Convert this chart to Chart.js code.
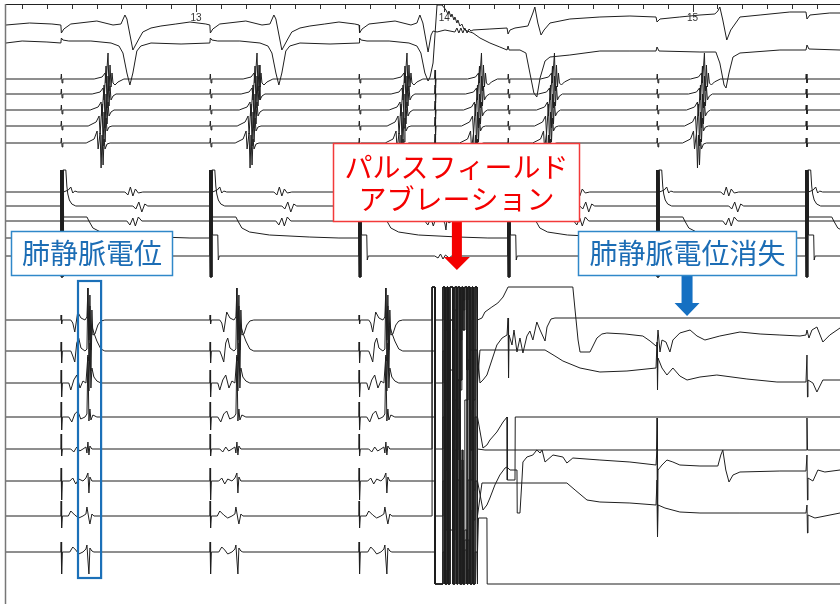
<!DOCTYPE html>
<html lang="ja">
<head>
<meta charset="utf-8">
<title>パルスフィールドアブレーション 心内心電図</title>
<script src="https://cdn.jsdelivr.net/npm/chart.js@4.4.1/dist/chart.umd.min.js"></script>
<style>
  html, body { margin: 0; padding: 0; background: #fff; }
  #wrap { position: relative; width: 840px; height: 604px; }
</style>
</head>
<body>
<div id="wrap"><canvas id="egm"></canvas></div>
<script>
// ---------------- time base (ms) ----------------
const timeRange = [12235, 15594];
const secondLabels = [13, 14, 15];
const pacingTimes = [12456, 13056, 13656, 14256, 14856, 15456];
const complexTimes = [12646, 13246, 13850, 14150, 14444, 15048];
const pfaPulseTimes = [13951, 13963, 13995, 14003, 14011, 14015, 14023, 14035, 14043, 14051, 14055,
                       14063, 14071, 14075, 14083, 14092, 14096, 14104, 14112, 14116, 14124, 14132];

// ---------------- channel rows (display units, 0 = bottom) ----------------
const ecgRows = [579, 561];
const ventRows = [525, 510, 494, 478, 461];
const csRows = [412, 398, 383, 366, 348];
const pvRows = [284, 253, 221, 187, 155, 123, 88, 52];
const stimRails = [434, 327];   // stimulus artefact limits on the CS rows
const pfaRails = [317, 20];     // amplifier saturation during the PFA burst

// ---------------- surface ECG ----------------
const ecg1Lead = [[12330, 2], [12420, 1]];
const ecg1Beat = [[0,0],[2,-8],[12,-4],[40,1],[145,4],[210,0],[242,1],[258,10],[266,6],[290,-25],[314,-14],
                  [330,-7],[363,-3],[403,-1],[463,1],[520,3],[584,1]];
const ecg1Tail = [[13657,0],[13659,-8],[13669,-4],[13697,1],[13802,4],[13866,0],[13890,2],[13902,10],[13914,2],
  [13935,-27],[13947,-10],[13955,-6],[13971,-7],[14003,-5],[14043,-7],[14051,-3],[14059,-8],[14067,-3],[14075,-8],
  [14083,-3],[14092,-8],[14100,-4],[14108,-6],[14116,-5],[14184,-4],[14253,-3],[14257,-9],[14265,-5],[14285,-3],
  [14337,-1],[14357,12],[14365,18],[14377,2],[14390,-10],[14402,-5],[14426,2],[14506,6],[14627,8],[14748,9],
  [14853,8],[14857,3],[14869,6],[14949,8],[15030,10],[15090,11],[15102,14],[15110,18],[15122,5],[15138,-15],
  [15154,-5],[15191,8],[15272,10],[15392,13],[15457,13],[15461,6],[15473,10],[15553,12],[15594,12]];
const ecg2Lead = [[12300, 2], [12400, 1]];
const ecg2Beat = [[0,0],[2,5],[8,3],[32,2],[121,2],[202,0],[234,-3],[250,-10],[266,-30],[278,-42],[290,-30],
                  [306,-8],[322,-3],[363,0],[484,-1]];
const ecg2Tail = [[13657,0],[13659,5],[13665,3],[13689,2],[13778,2],[13858,0],[13890,-3],[13906,-10],[13922,-30],
  [13935,-38],[13943,-34],[13955,-20],[13971,38],[13991,38],[14007,33],[14015,29],[14019,32],[14027,26],[14031,29],
  [14039,23],[14043,26],[14051,20],[14055,23],[14063,17],[14071,19],[14079,14],[14092,12],[14104,11],[14116,10],
  [14144,5],[14184,0],[14224,-4],[14253,-7],[14257,-3],[14261,-7],[14305,-7],[14329,-10],[14345,-30],[14361,-50],
  [14373,-54],[14386,-35],[14406,-18],[14426,-14],[14506,-12],[14627,-8],[14748,-8],[14853,-8],[14857,-4],
  [14865,-8],[15030,-9],[15094,-9],[15110,-20],[15127,-42],[15135,-45],[15147,-30],[15163,-14],[15191,-10],
  [15352,-7],[15457,-7],[15461,-2],[15469,-6],[15594,-7]];

// ---------------- ventricular catheter (5 bipoles) ----------------
const ventStim = [[0,0],[2,5],[5,-4],[8,0]];
const ventPfaSpike = [[-2,0],[0,9],[2,-9],[4,0]];
const vent1Complex = [[-56,0],[-24,2],[-12,6],[-8,-4],[0,26],[4,-12],[8,14],[12,-8],[16,6],[20,-4],[28,-6],[40,-3],[64,0]];
const vent2Complex = [[-64,0],[-32,2],[-20,6],[-16,-6],[-8,28],[-4,-14],[0,18],[4,-12],[8,8],[12,-6],[20,-2],[32,0]];
const vent3Complex = [[-72,0],[-40,3],[-28,8],[-24,-6],[-16,25],[-12,-18],[-8,16],[-4,-14],[0,8],[4,-6],[12,-2],[24,0]];
const vent4Complex = [[-80,0],[-48,4],[-36,10],[-32,-8],[-24,22],[-20,-20],[-16,14],[-12,-16],[-8,8],[-4,-5],[4,-1],[16,0]];
const vent5Complex = [[-88,0],[-56,4],[-44,12],[-40,-6],[-32,10],[-28,-25],[-24,8],[-20,-22],[-16,4],[-12,-6],[-4,-1],[8,0]];

// ---------------- CS pacing catheter (5 bipoles) ----------------
const stimBarTimes = [0, 2, 4, 6, 8];
const cs1After = [[11,0],[30,2],[40,5],[48,-1],[56,1],[68,0],[258,0],[270,-3],[280,5],[290,-4],[300,3],[312,-1],[330,0]];
const cs2After = [[20,36],[24,20],[28,12],[34,6],[44,2],[60,0],[290,0],[302,-3],[314,4],[326,-6],[338,2],[350,0]];
const cs3After = [[11,0],[266,0],[278,-4],[290,3],[300,-5],[312,4],[326,0]];
const cs4After = [[11,21],[105,21],[113,17],[129,10],[160,6],[240,3],[400,1],[520,0]];
const cs5After = [[11,21],[32,21],[34,-4],[38,0]];
const cs3Pfa = [[13983,0],[13995,2],[14003,-3],[14007,-9],[14011,2],[14019,-2],[14031,0]];
const cs5Pfa = [[13962,0],[13975,-2],[13985,2],[13995,-3],[14005,1],[14020,-2],[14035,1],[14050,-1],[14070,0]];

// ---------------- pulmonary vein catheter (8 bipoles) ----------------
const pv1Beat = [[0,0],[1,5],[3,-4],[6,0],[40,0],[48,-3],[56,-12],[68,8],[81,2],[97,0],[105,3],[109,32],[113,-20],[117,25],[121,-30],[125,10],[129,-15],[137,-14],[149,-5],[161,-1],[177,0]];
const pv2Beat = [[0,0],[1,9],[3,-12],[6,0],[40,0],[48,-5],[56,-11],[64,8],[72,13],[81,3],[97,0],[105,2],[109,63],[113,-10],[117,45],[121,-20],[125,25],[133,18],[145,10],[161,2],[177,0]];
const pv3Beat = [[0,0],[1,13],[3,-14],[6,0],[32,0],[40,-7],[52,3],[64,8],[77,-5],[89,2],[101,0],[109,28],[113,-8],[117,40],[121,-5],[125,15],[133,6],[145,2],[161,0]];
const pv4Beat = [[0,0],[1,15],[3,-13],[6,0],[32,0],[44,-5],[56,3],[68,6],[80,-2],[97,0],[105,3],[109,60],[113,-4],[117,8],[121,-3],[129,2],[145,0]];
const pv5Beat = [[0,0],[1,15],[3,-7],[6,0],[40,0],[52,-3],[64,2],[76,-2],[89,0],[101,2],[105,-4],[109,7],[113,-6],[117,3],[125,0]];
const pv6Beat = [[0,0],[1,13],[3,-19],[6,0],[36,0],[48,3],[60,-3],[72,2],[89,0],[101,3],[109,8],[113,-12],[117,4],[125,0]];
const pv7Beat = [[0,0],[1,15],[3,-12],[6,0],[30,0],[40,5],[56,1],[72,-2],[89,0],[101,2],[105,9],[113,-3],[117,-8],[125,2],[133,0]];
const pv8Beat = [[0,0],[1,10],[3,-22],[6,0],[36,0],[48,5],[60,2],[72,-2],[89,0],[101,3],[105,7],[109,-8],[113,-22],[117,4],[125,1],[133,0]];

// level held between PFA pulses on each PV bipole (relative to its baseline)
const pv1Pfa = [0,0,0,-10,-30,-60,-90,-120,-150,-130,-100,-70,-40,-10,10,20,0,-30,-60,-30,-10,0];
const pv2Pfa = [0,0,0,11,31,51,31,-9,-49,-89,-129,-159,-119,-79,-49,-29,-9,11,31,11,1,0];
const pv3Pfa = [0,0,0,-17,-47,-77,-117,-147,-117,-77,-37,3,43,73,53,13,-27,-67,-37,-17,-7,0];
const pv4Pfa = [0,0,0,17,37,67,97,117,87,47,7,-33,-73,-103,-133,-103,-63,-23,7,-3,0,0];
const pv5Pfa = [0,0,0,-21,-51,-81,-111,-91,-51,-11,29,69,99,119,89,49,9,-31,-71,-41,-11,0];
const pv6Pfa = [0,0,0,21,51,81,111,141,171,141,101,61,21,-19,-59,-89,-59,-19,11,1,0,0];
const pv7Pfa = [0,0,0,-14,-34,-54,-24,16,56,96,136,176,206,216,186,146,106,66,26,-4,0,0];
const pv8Pfa = [0,0,0,-8,-18,-8,22,62,102,142,172,142,102,62,22,-8,-18,12,42,12,0,0];

const pv1After = [[14136,0],[14152,2],[14164,8],[14192,13],[14216,17],[14237,23],[14249,29],[14257,33],[14518,33],
  [14527,10],[14539,-20],[14547,-32],[14587,-32],[14615,-18],[14635,-14],[14655,-13],[14728,-14],[14800,-16],
  [14829,-21],[14853,-26],[14857,-26],[14861,-10],[14869,-32],[14877,-20],[14893,-22],[14909,-32],[14921,-20],
  [14949,-13],[14990,-10],[15018,-16],[15050,-20],[15110,-16],[15191,-12],[15272,-14],[15352,-15],[15433,-16],
  [15457,-15],[15461,-10],[15469,-18],[15481,-10],[15501,-7],[15525,-22],[15553,-15],[15594,-8]];
const pv2After = [[14136,0],[14144,-32],[14156,-29],[14172,-24],[14192,-9],[14212,6],[14233,13],[14253,16],
  [14257,33],[14259,-27],[14261,16],[14273,6],[14281,21],[14293,-1],[14305,13],[14317,-2],[14333,15],[14345,20],
  [14357,11],[14373,29],[14386,21],[14406,10],[14414,24],[14430,32],[14446,33],[15594,33]];
const pv3After = [[14136,0],[14144,33],[14406,33],[14446,27],[14478,22],[14547,15],[14627,11],[14736,12],
  [14853,15],[14857,41],[14859,-7],[14861,25],[14877,15],[14897,8],[14921,15],[14949,7],[14978,3],[15030,6],
  [15098,8],[15219,4],[15340,1],[15457,1],[15461,28],[15463,-14],[15465,3],[15485,0],[15501,-9],[15525,3],[15594,3]];
const pv4After = [[14136,0],[14156,-31],[14172,-28],[14184,-23],[14212,-15],[14237,-5],[14253,0],[14254,-63],
  [14285,-63],[14286,0],[15594,0]];
const pv5After = [[14136,0],[14164,-1],[14855,-1],[14857,31],[14859,-1],[15459,-1],[15461,31],[15463,-1],[15594,-1]];
const pv6After = [[14136,0],[14156,-29],[14172,-24],[14184,-17],[14204,-4],[14224,6],[14245,13],[14253,14],
  [14265,11],[14293,11],[14294,-32],[14305,-32],[14313,1],[14317,19],[14333,24],[14357,26],[14373,31],[14386,28],
  [14394,31],[14406,19],[14438,26],[14478,24],[14494,18],[14518,23],[14627,21],[14748,19],[14853,16],[14857,33],
  [14859,-56],[14861,11],[14877,16],[14897,21],[14921,19],[14949,16],[15030,15],[15102,15],[15114,26],[15122,31],
  [15134,11],[15147,-1],[15163,6],[15191,9],[15352,10],[15457,10],[15461,26],[15463,-19],[15465,3],[15485,0],
  [15505,11],[15533,9],[15594,11]];
const pv7After = [[14136,0],[14152,33],[14494,33],[14527,26],[14575,16],[14627,14],[14748,13],[14853,11],
  [14857,36],[14859,-21],[14861,11],[14889,8],[14949,4],[15030,3],[15191,3],[15457,3],[15461,11],[15463,-17],
  [15465,1],[15493,-2],[15594,3]];
const pv8After = [[14136,0],[14138,34],[14172,34],[14173,-32],[15594,-32]];

// ---------------- assembling the traces ----------------
const at = (tpl, t0) => tpl.map(([t, d]) => [t0 + t, d]);

function trace(level, segments) {
  const pts = segments.flat().slice().sort((a, b) => a[0] - b[0]);
  const data = [{ x: timeRange[0], y: level }];
  for (const [t, d] of pts) data.push({ x: t, y: level + d });
  const last = pts[pts.length - 1];
  if (last[0] < timeRange[1]) data.push({ x: timeRange[1], y: level + last[1] });
  return data;
}

function stimBar(level) {
  const seq = [[-1, 0]];
  stimBarTimes.forEach((t, i) => seq.push([t, stimRails[i % 2] - level]));
  return seq;
}

// stepwise record during the burst: each pulse switches the bipole between
// its saturation rail and the level held until the next pulse
function pfaBurst(level, held, k) {
  const rail = pfaRails[k % 2] - level;
  const seq = [[pfaPulseTimes[0] - 1, 0]];
  let prev = 0;
  pfaPulseTimes.forEach((t, i) => {
    const v = (i + k) % 2 === 0 ? rail : held[i];
    seq.push([t, prev], [t, v]);
    prev = v;
  });
  const tEnd = pfaPulseTimes[pfaPulseTimes.length - 1];
  seq.push([tEnd + 2, prev], [tEnd + 2, 0]);
  return seq;
}

const ventComplexes = [vent1Complex, vent2Complex, vent3Complex, vent4Complex, vent5Complex];
const csAfter = [cs1After, cs2After, cs3After, cs4After, cs5After];
const csPfa = [[], [], cs3Pfa, [], cs5Pfa];
const pvBeats = [pv1Beat, pv2Beat, pv3Beat, pv4Beat, pv5Beat, pv6Beat, pv7Beat, pv8Beat];
const pvPfa = [pv1Pfa, pv2Pfa, pv3Pfa, pv4Pfa, pv5Pfa, pv6Pfa, pv7Pfa, pv8Pfa];
const pvAfter = [pv1After, pv2After, pv3After, pv4After, pv5After, pv6After, pv7After, pv8After];

const traces = [
  trace(ecgRows[0], [ecg1Lead, at(ecg1Beat, pacingTimes[0]), at(ecg1Beat, pacingTimes[1]), ecg1Tail]),
  trace(ecgRows[1], [ecg2Lead, at(ecg2Beat, pacingTimes[0]), at(ecg2Beat, pacingTimes[1]), ecg2Tail]),
  ...ventComplexes.map((cpx, k) => trace(ventRows[k], [
    ...pacingTimes.map(t => at(ventStim, t)),
    ...complexTimes.map(t => at(cpx, t)),
    at(ventPfaSpike, pfaPulseTimes[1])
  ])),
  ...csAfter.map((tpl, k) => trace(csRows[k], [
    ...pacingTimes.map(t => at(stimBar(csRows[k]).concat(tpl), t)),
    csPfa[k]
  ])),
  ...pvBeats.map((tpl, k) => trace(pvRows[k], [
    ...pacingTimes.slice(0, 3).map(t => at(tpl, t)),
    pfaBurst(pvRows[k], pvPfa[k], k),
    pvAfter[k]
  ]))
];

// ---------------- frame, time ticks and callouts ----------------
function drawArrow(ctx, xp, y0, y1, color, shaft, head, headLen) {
  ctx.fillStyle = color;
  ctx.beginPath();
  ctx.moveTo(xp - shaft / 2, y0);
  ctx.lineTo(xp + shaft / 2, y0);
  ctx.lineTo(xp + shaft / 2, y1 - headLen);
  ctx.lineTo(xp + head / 2, y1 - headLen);
  ctx.lineTo(xp, y1);
  ctx.lineTo(xp - head / 2, y1 - headLen);
  ctx.lineTo(xp - shaft / 2, y1 - headLen);
  ctx.closePath();
  ctx.fill();
}

const overlay = {
  id: 'overlay',
  afterDatasetsDraw(chart, args, opts) {
    const { ctx, chartArea: a, scales: { x, y } } = chart;
    ctx.save();

    // recorder frame
    ctx.strokeStyle = '#222';
    ctx.lineWidth = 1;
    ctx.beginPath();
    ctx.moveTo(a.left, a.top - 0.5);
    ctx.lineTo(a.right, a.top - 0.5);
    ctx.stroke();
    ctx.strokeStyle = '#777';
    ctx.lineWidth = 1.5;
    ctx.beginPath();
    ctx.moveTo(a.left - 0.5, a.top - 1);
    ctx.lineTo(a.left - 0.5, a.bottom);
    ctx.stroke();

    // 100 ms ticks, labelled every second
    ctx.strokeStyle = '#333';
    ctx.lineWidth = 1;
    for (let t = Math.ceil(x.min / 100) * 100; t <= x.max; t += 100) {
      const px = Math.round(x.getPixelForValue(t)) + 0.5;
      const whole = t % 1000 === 0;
      ctx.beginPath();
      ctx.moveTo(px, a.top);
      ctx.lineTo(px, a.top + (whole ? 7 : 4));
      ctx.stroke();
    }
    ctx.fillStyle = '#333';
    ctx.font = '10px "Liberation Sans", Arial, sans-serif';
    ctx.textAlign = 'center';
    ctx.textBaseline = 'middle';
    secondLabels.forEach(s => ctx.fillText(String(s), x.getPixelForValue(s * 1000), a.top + 13));

    // highlight frame around the PV potentials
    const f = opts.frame;
    ctx.strokeStyle = f.color;
    ctx.lineWidth = 2.2;
    const fx0 = x.getPixelForValue(f.x0), fx1 = x.getPixelForValue(f.x1);
    const fy0 = y.getPixelForValue(f.y0), fy1 = y.getPixelForValue(f.y1);
    ctx.strokeRect(fx0, fy0, fx1 - fx0, fy1 - fy0);

    // arrows
    opts.arrows.forEach(ar => {
      drawArrow(ctx, x.getPixelForValue(ar.x), y.getPixelForValue(ar.from), y.getPixelForValue(ar.to),
                ar.color, ar.shaft, ar.head, ar.headLen);
    });

    // text boxes
    opts.boxes.forEach(b => {
      const bx0 = Math.round(x.getPixelForValue(b.x0)) + 0.5;
      const bx1 = Math.round(x.getPixelForValue(b.x1)) + 0.5;
      const by0 = Math.round(y.getPixelForValue(b.y0)) + 0.5;
      const by1 = Math.round(y.getPixelForValue(b.y1)) + 0.5;
      ctx.fillStyle = '#fff';
      ctx.fillRect(bx0, by0, bx1 - bx0, by1 - by0);
      ctx.strokeStyle = b.border;
      ctx.lineWidth = 1.5;
      ctx.strokeRect(bx0, by0, bx1 - bx0, by1 - by0);
      ctx.fillStyle = b.color;
      ctx.font = '28px "Noto Sans CJK JP", sans-serif';
      ctx.textAlign = 'center';
      ctx.textBaseline = 'middle';
      const cx = (bx0 + bx1) / 2, h = by1 - by0;
      b.lines.forEach((ln, i) => {
        const cy = b.lines.length === 1 ? by0 + h / 2 : by0 + h * (i === 0 ? 0.3 : 0.71);
        ctx.fillText(ln, cx, cy);
      });
    });
    ctx.restore();
  }
};

const lineColor = '#1f1f1f';
new Chart(document.getElementById('egm'), {
  type: 'line',
  data: {
    datasets: traces.map(d => ({
      data: d,
      borderColor: lineColor,
      borderWidth: 1,
      pointRadius: 0,
      tension: 0,
      fill: false
    }))
  },
  options: {
    responsive: true,
    maintainAspectRatio: false,
    animation: false,
    parsing: false,
    events: [],
    layout: { padding: { left: 6, top: 5, right: 0, bottom: 0 } },
    scales: {
      x: { type: 'linear', min: timeRange[0], max: timeRange[1], display: false },
      y: { type: 'linear', min: 0, max: 599, display: false }
    },
    plugins: {
      legend: { display: false },
      tooltip: { enabled: false },
      overlay: {
        frame: { x0: 12525, x1: 12618, y0: 323, y1: 26, color: '#1b70b8' },
        arrows: [
          { x: 14051, from: 383, to: 334, color: '#f40000', shaft: 10, head: 26, headLen: 13 },
          { x: 14978, from: 329, to: 288, color: '#1570c2', shaft: 11, head: 25, headLen: 13 }
        ],
        boxes: [
          { x0: 13552, x1: 14543, y0: 461, y1: 383, color: '#f40000', border: '#f33a3a',
            lines: ['パルスフィールド', 'アブレーション'] },
          { x0: 12255, x1: 12904, y0: 373, y1: 329, color: '#1c6db5', border: '#3088c9',
            lines: ['肺静脈電位'] },
          { x0: 14539, x1: 15417, y0: 373, y1: 329, color: '#1c6db5', border: '#3088c9',
            lines: ['肺静脈電位消失'] }
        ]
      }
    }
  },
  plugins: [overlay]
});
</script>
</body>
</html>
